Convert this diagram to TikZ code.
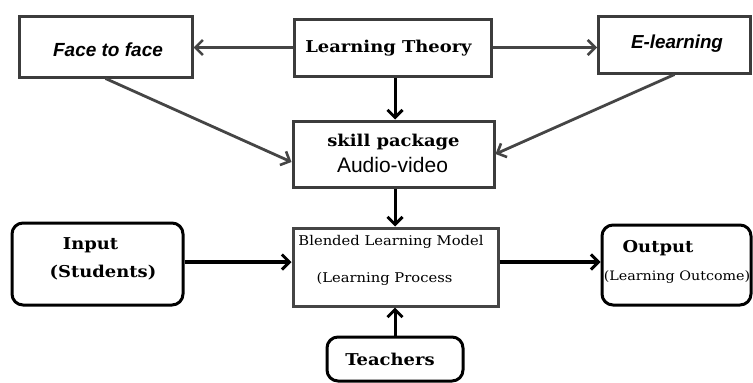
\documentclass[tikz,border=0pt]{standalone}
\usepackage{fontspec}
\usetikzlibrary{arrows.meta,calc}
\newfontfamily\schoolfont[FakeStretch=1.1]{DejaVu Serif}
\newfontfamily\arialfont{Liberation Sans}
\definecolor{boxgray}{HTML}{3C3C3C}
\definecolor{linkgray}{HTML}{454545}
\tikzset{
  topbox/.style={draw=boxgray, line width=3pt, minimum width=#1, inner sep=0pt},
  roundbox/.style={draw=black, line width=3pt, rounded corners=11pt, inner sep=0pt},
  midbox/.style={draw=linkgray, line width=3pt, inner sep=0pt},
  lbl/.style={anchor=base, inner sep=0pt},
  bigserif/.style={lbl, font=\schoolfont\bfseries\fontsize{16.3}{19}\selectfont},
  smallserif/.style={lbl, font=\schoolfont\fontsize{13.4}{16}\selectfont},
  sanslbl/.style={lbl, font=\arialfont\bfseries\itshape\fontsize{19}{22}\selectfont},
  greylink/.style={draw=linkgray, line width=2.8pt, -{Straight Barb[length=7.5pt,width=15pt,line width=2.6pt]}},
  blacklink/.style={draw=black, line width=3pt, -{Straight Barb[length=7.5pt,width=15pt,line width=3pt]}},
}
\begin{document}
\begin{tikzpicture}[x=1pt,y=-1pt]
  \useasboundingbox (0,0) rectangle (753,383);

  % upper row and skill package box
  \node[topbox=173pt, minimum height=61pt] (face) at (105.5,46.5) {};
  \node[topbox=197pt, minimum height=57pt] (theory) at (392.5,47.5) {};
  \node[topbox=152pt, minimum height=57pt] (elearn) at (674.5,44.5) {};
  \node[topbox=201pt, minimum height=66pt] (skill) at (393.5,154) {};

  % lower row
  \node[roundbox, minimum width=171pt, minimum height=82pt] (input) at (97.5,264) {};
  \node[midbox, minimum width=205pt, minimum height=78pt] (blended) at (395.5,267) {};
  \node[roundbox, minimum width=149pt, minimum height=80pt] (output) at (676.5,265) {};
  \node[roundbox, minimum width=136pt, minimum height=44pt] (teachers) at (395,359) {};

  % texts
  \node[sanslbl] (faceT) at (108,56) {Face to face};
  \node[bigserif] (theoryT) at (388.5,52) {Learning Theory};
  \node[sanslbl, font=\arialfont\bfseries\itshape\fontsize{18.8}{22}\selectfont] (elearnT) at (677,48) {E-learning};
  \node[bigserif] (skillT) at (393.5,146) {skill package};
  \node[lbl, font=\arialfont\fontsize{21}{24}\selectfont] (audioT) at (392.5,172) {Audio-video};
  \node[smallserif] (blendT) at (391,245) {Blended Learning Model};
  \node[smallserif] (procT) at (384.5,282) {(Learning Process};
  \node[bigserif] (inputT) at (90.5,249) {Input};
  \node[bigserif] (studT) at (103,277) {(Students)};
  \node[bigserif] (outT) at (658,252) {Output};
  \node[smallserif, font=\schoolfont\fontsize{13}{16}\selectfont] (outcomeT) at (677,280) {(Learning Outcome)};
  \node[bigserif] (teachT) at (390,365) {Teachers};

  % connectors of the upper part
  \draw[greylink] (theory.west) -- (theory.west -| face.east);
  \draw[greylink] (theory.east) -- (theory.east -| elearn.west);
  \draw[greylink] (face.south) -- ($(skill.west)+(0,8)$);
  \draw[greylink] (elearn.south) -- (skill.east);
  \draw[blacklink] ($(theory.south)+(2.5,0)$) -- ($(skill.north)+(1.5,0)$);
  \draw[blacklink] ($(skill.south)+(1.5,0)$) -- ($(blended.north)+(-0.5,0)$);

  % connectors of the lower part
  \draw[blacklink, line width=3.5pt] ($(input.east)+(0,-2)$) -- ($(input.east -| blended.west)+(0,-2)$);
  \draw[blacklink, line width=3.5pt] ($(blended.east)+(0,-5)$) -- ($(blended.east -| output.west)+(0,-5)$);
  \draw[blacklink] (teachers.north) -- (teachers.north |- blended.south);
\end{tikzpicture}
\end{document}
